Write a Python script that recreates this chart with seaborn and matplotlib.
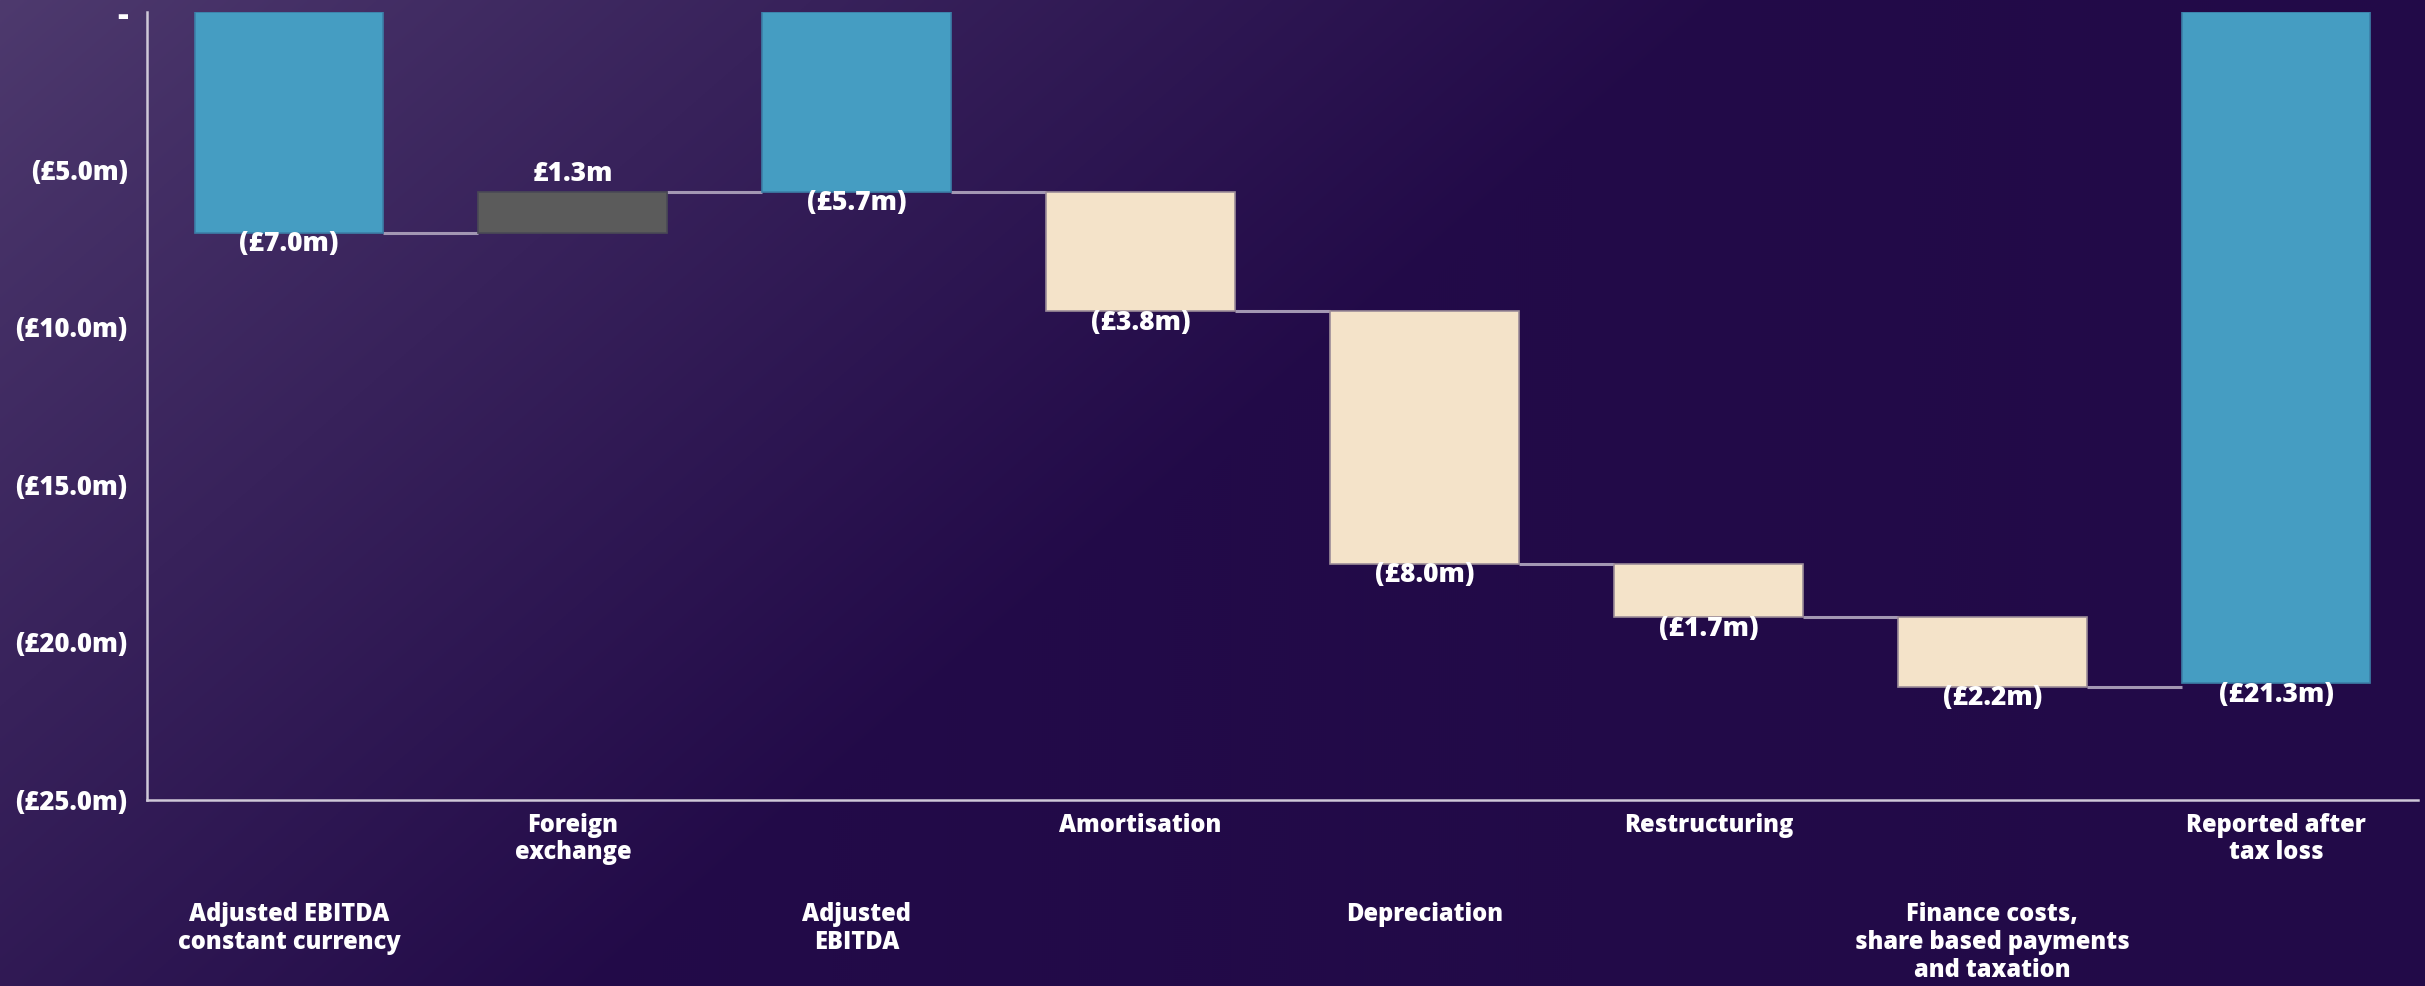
import numpy as np
import pandas as pd
import matplotlib
matplotlib.use("Agg")
import matplotlib.pyplot as plt
import seaborn as sns

# ---- data ----
categories = ["Adjusted EBITDA\nconstant currency", "Foreign\nexchange", "Adjusted\nEBITDA",
              "Amortisation", "Depreciation", "Restructuring",
              "Finance costs,\nshare based payments\nand taxation", "Reported after\ntax loss"]
values = [-7.0, 1.3, -5.7, -3.8, -8.0, -1.7, -2.2, -21.3]
kinds = ["total", "delta", "total", "delta", "delta", "delta", "delta", "total"]
value_labels = ["(£7.0m)", "£1.3m", "(£5.7m)", "(£3.8m)", "(£8.0m)", "(£1.7m)", "(£2.2m)", "(£21.3m)"]
ytick_values = [0, -5, -10, -15, -20, -25]
ytick_labels = ["-", "(£5.0m)", "(£10.0m)", "(£15.0m)", "(£20.0m)", "(£25.0m)"]

BLUE = "#459DC2"
GREY = "#5B5B5B"
CREAM = "#F4E3C9"
TXT = "#FFFFFF"
FONT = ["Open Sans", "DejaVu Sans"]
WEIGHT = 800

# compute floating bars
bottoms, heights, colors, edges, ends = [], [], [], [], []
level = 0.0
for v, k in zip(values, kinds):
    if k == "total":
        bottoms.append(0.0); heights.append(v); colors.append(BLUE); edges.append("#3C7FA8")
        level = v
    else:
        bottoms.append(level); heights.append(v)
        colors.append(GREY if v > 0 else CREAM)
        edges.append("#4A4A55" if v > 0 else "#9C8C98")
        level = level + v
    ends.append(level)

df = pd.DataFrame({"cat": categories, "height": heights})

sns.set_theme(style="white")
plt.rcParams["font.family"] = FONT

W, H = 2425, 986
fig = plt.figure(figsize=(W / 100, H / 100), dpi=100)

# background gradient
bg = fig.add_axes([0, 0, 1, 1], zorder=-10)
yy, xx = np.mgrid[0:H:2, 0:W:2]
t = np.clip((xx * 1.0 + yy * 1.15) / 1750.0, 0, 1) ** 0.9
light = np.array([0x4E, 0x3A, 0x6E]) / 255.0
dark = np.array([0x22, 0x0A, 0x48]) / 255.0
img = light[None, None, :] * (1 - t[..., None]) + dark[None, None, :] * t[..., None]
bg.imshow(img, aspect="auto", extent=[0, 1, 0, 1], origin="upper")
bg.axis("off")

ax = fig.add_axes([147 / W, 1 - 800 / H, (2418 - 147) / W, (800 - 12) / H])
ax.patch.set_alpha(0)

bar_w = 0.665
sns.barplot(data=df, x="cat", y="height", order=categories, color=BLUE,
            width=bar_w, bottom=bottoms, linewidth=1.2, saturation=1,
            errorbar=None, ax=ax, zorder=3)
for p, fc, ec in zip(ax.patches, colors, edges):
    p.set_facecolor(fc)
    p.set_edgecolor(ec)

# connectors
for i in range(len(values) - 1):
    ax.plot([i + bar_w / 2, i + 1 - bar_w / 2], [ends[i], ends[i]],
            color="#A397B3", lw=2.2, zorder=2, solid_capstyle="butt")

# value labels
for i, (b, h) in enumerate(zip(bottoms, heights)):
    top = max(b, b + h); bot = min(b, b + h)
    if h > 0:
        ax.annotate(value_labels[i], (i, top), xytext=(0, 3), textcoords="offset points",
                    ha="center", va="bottom", color=TXT, fontsize=19, fontweight=WEIGHT)
    else:
        ax.annotate(value_labels[i], (i, bot), xytext=(0, 1), textcoords="offset points",
                    ha="center", va="top", color=TXT, fontsize=19, fontweight=WEIGHT)

ax.set_ylim(-25, 0)
ax.set_xlim(-0.5, 7.5)
ax.set_yticks(ytick_values)
ax.set_yticklabels(ytick_labels, color=TXT, fontsize=18.5, fontweight=WEIGHT)
ax.get_yticklabels()[0].set_fontsize(24)
ax.tick_params(axis="y", length=0, pad=14)
ax.set_xticks([])
ax.set_xlabel(""); ax.set_ylabel("")

for s in ["top", "right"]:
    ax.spines[s].set_visible(False)
for s in ["left", "bottom"]:
    ax.spines[s].set_color("#CFC8D8")
    ax.spines[s].set_linewidth(1.8)

# staggered category labels
for i, c in enumerate(categories):
    y = -0.016 if i % 2 == 1 else -0.13
    ax.text(i, y, c, transform=ax.get_xaxis_transform(), ha="center", va="top",
            color=TXT, fontsize=17, fontweight=WEIGHT, linespacing=1.15)

fig.savefig("out.png", dpi=100)
